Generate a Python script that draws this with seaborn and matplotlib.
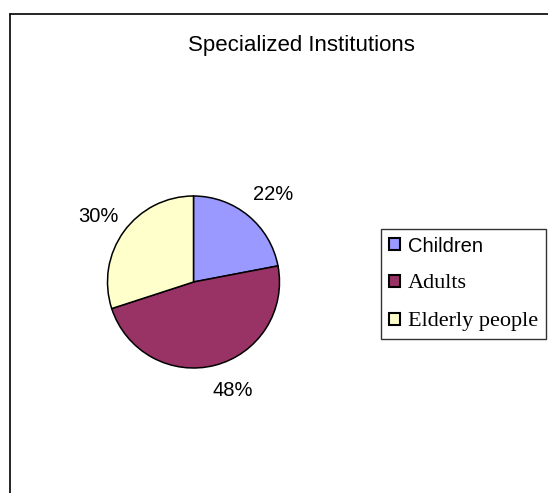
import matplotlib
matplotlib.use("Agg")
import matplotlib.pyplot as plt
import seaborn as sns
import numpy as np
from matplotlib.lines import Line2D

sns.set_theme(style="white")
plt.rcParams['font.family'] = ['Liberation Sans', 'DejaVu Sans']
plt.rcParams['text.color'] = 'black'

title = "Specialized Institutions"
categories = ["Children", "Adults", "Elderly people"]
values = [22, 48, 30]
colors = ["#9999FF", "#993366", "#FFFFCC"]

W, H = 548, 493
fig = plt.figure(figsize=(W / 100, H / 100), dpi=100)
fig.patch.set_facecolor("white")

# pie axes: centre (193.5, 282) px, radius 86 px, limits +-2
cx, cy, r = 193.5, 282, 86
ax = fig.add_axes([(cx - 2 * r) / W, (H - cy - 2 * r) / H, 4 * r / W, 4 * r / H])
wedges, texts, autotexts = ax.pie(
    values, colors=colors, startangle=90, counterclock=False, radius=1,
    autopct=lambda p: f"{p:.0f}%", pctdistance=1.36,
    wedgeprops=dict(edgecolor="black", linewidth=1.1),
    textprops=dict(fontsize=14.5, color="black"))
ax.set_xlim(-2, 2)
ax.set_ylim(-2, 2)
ax.set_aspect("equal")
ax.axis("off")

# label placement (Excel-like outside labels)
label_dist = [1.379, 1.348, 1.349]
label_nudge = [-2.5, 5.6, 1.4]
for w, t, d, da in zip(wedges, autotexts, label_dist, label_nudge):
    ang = np.deg2rad((w.theta1 + w.theta2) / 2 + da)
    t.set_position((d * np.cos(ang), d * np.sin(ang)))
    t.set_ha("center")
    t.set_va("center")

fig.text(301.5 / W, 1 - 45.5 / H, title, ha="center", va="center",
         fontsize=16, color="black")

leg = fig.legend(wedges, categories, loc="upper left",
                 bbox_to_anchor=(381 / W, 1 - 228.5 / H),
                 frameon=True, fancybox=False, shadow=False,
                 handlelength=0.55, handleheight=0.55, handletextpad=0.4,
                 labelspacing=0.93, borderpad=0.4, borderaxespad=0,
                 prop=dict(size=14.5))
leg.get_frame().set_edgecolor("black")
leg.get_frame().set_linewidth(1.0)
for i, t in enumerate(leg.get_texts()):
    t.set_color("black")
    if i == 0:
        t.set_fontfamily(["Liberation Sans", "DejaVu Sans"])
        t.set_fontsize(14.5)
    else:
        t.set_fontfamily(["Liberation Serif", "DejaVu Serif"])
        t.set_fontsize(16)
for h in leg.legend_handles:
    h.set_edgecolor("black")
    h.set_linewidth(1.5)

# outer chart border (top and left visible)
x0 = 9.5 / W
y0 = 1 - 14 / H
fig.add_artist(Line2D([x0, x0], [0, y0], transform=fig.transFigure, color="black", linewidth=1.2))
fig.add_artist(Line2D([x0, 1], [y0, y0], transform=fig.transFigure, color="black", linewidth=1.2))

fig.savefig("out.png", dpi=100)
